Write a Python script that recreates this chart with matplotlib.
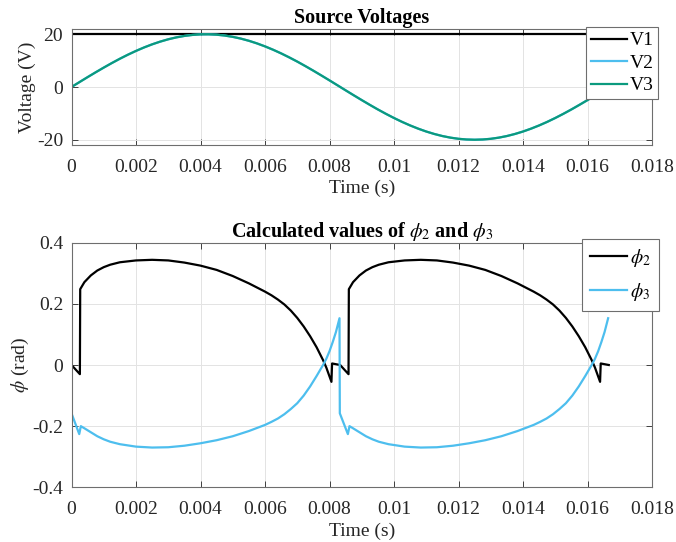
import matplotlib
matplotlib.use('Agg')
import matplotlib.pyplot as plt
import numpy as np

plt.rcParams['font.family'] = ['Liberation Serif', 'DejaVu Serif']
plt.rcParams['mathtext.fontset'] = 'stix'

# --- top panel: source voltages ---
# sample times: every 0.25 ms up to 16.5 ms, then the end of the cycle
t_v = list(np.round(np.arange(0, 0.0165 + 1e-9, 0.00025), 5)) + [0.01667]
v3 = [0, 1.88, 3.75, 5.58, 7.36, 9.08, 10.72, 12.26, 13.69, 15.00,
      16.18, 17.21, 18.10, 18.82, 19.37, 19.75, 19.96, 19.99, 19.84, 19.52,
      19.02, 18.36, 17.53, 16.54, 15.41, 14.14, 12.75, 11.24, 9.64, 7.94,
      6.18, 4.36, 2.51, 0.63, -1.26, -3.13, -4.97, -6.77, -8.52, -10.18,
      -11.76, -13.23, -14.58, -15.80, -16.89, -17.82, -18.60, -19.21, -19.65, -19.91,
      -20.0, -19.91, -19.65, -19.21, -18.60, -17.82, -16.89, -15.80, -14.58, -13.23,
      -11.76, -10.18, -8.52, -6.77, -4.97, -3.13, -1.26, 0]
v1 = [20.0] * len(t_v)
v2 = list(v3)   # V2 sits under V3 in the reference, never visible

# --- bottom panel: phi_2 ---
t_p2 = [0, 0.00026, 0.00027, 0.0004, 0.0006, 0.0008, 0.001, 0.0012, 0.0015, 0.002,
        0.0025, 0.003, 0.0035, 0.004, 0.0045, 0.005, 0.0055, 0.006, 0.0062, 0.0064,
        0.0066, 0.0068, 0.007, 0.0072, 0.0074, 0.0076, 0.0078, 0.0079, 0.00806, 0.00808,
        0.00833, 0.00859, 0.0086,
        0.00873, 0.00893, 0.00913, 0.00933, 0.00953, 0.00983, 0.01033, 0.01083, 0.01133, 0.01183,
        0.01233, 0.01283, 0.01333, 0.01383, 0.01433, 0.01453, 0.01473, 0.01493, 0.01513, 0.01533,
        0.01553, 0.01573, 0.01593, 0.01613, 0.01623, 0.01639, 0.01641, 0.01666]
phi2 = [0, -0.03, 0.248, 0.271, 0.293, 0.309, 0.320, 0.328, 0.336, 0.342,
        0.344, 0.342, 0.335, 0.325, 0.311, 0.291, 0.267, 0.240, 0.228, 0.214,
        0.198, 0.178, 0.154, 0.126, 0.094, 0.058, 0.016, -0.008, -0.055, 0.005,
        0.0, -0.03, 0.248,
        0.271, 0.293, 0.309, 0.320, 0.328, 0.336, 0.342, 0.344, 0.342, 0.335,
        0.325, 0.311, 0.291, 0.267, 0.240, 0.228, 0.214, 0.198, 0.178, 0.154,
        0.126, 0.094, 0.058, 0.016, -0.008, -0.055, 0.005, 0.0]

# --- bottom panel: phi_3 ---
t_p3 = [0, 0.00024, 0.00029, 0.0004, 0.0006, 0.0008, 0.001, 0.0012, 0.0015, 0.002,
        0.0025, 0.003, 0.0035, 0.004, 0.0045, 0.005, 0.0055, 0.006, 0.0062, 0.0064,
        0.0066, 0.0068, 0.007, 0.0072, 0.0074, 0.0076, 0.0078, 0.0079, 0.008, 0.0081,
        0.0082, 0.00831, 0.00832, 0.00857, 0.00862,
        0.00873, 0.00893, 0.00913, 0.00933, 0.00953, 0.00983, 0.01033, 0.01083, 0.01133, 0.01183,
        0.01233, 0.01283, 0.01333, 0.01383, 0.01433, 0.01453, 0.01473, 0.01493, 0.01513, 0.01533,
        0.01553, 0.01573, 0.01593, 0.01613, 0.01623, 0.01633, 0.01643, 0.01653, 0.01664]
phi3 = [-0.158, -0.226, -0.2, -0.207, -0.22, -0.233, -0.243, -0.251, -0.259, -0.267,
        -0.27, -0.269, -0.264, -0.256, -0.246, -0.233, -0.216, -0.196, -0.186, -0.175,
        -0.161, -0.144, -0.125, -0.1, -0.07, -0.036, 0.0, 0.02, 0.045, 0.075,
        0.108, 0.153, -0.158, -0.226, -0.2,
        -0.207, -0.22, -0.233, -0.243, -0.251, -0.259, -0.267, -0.27, -0.269, -0.264,
        -0.256, -0.246, -0.233, -0.216, -0.196, -0.186, -0.175, -0.161, -0.144, -0.125,
        -0.1, -0.07, -0.036, 0.0, 0.02, 0.045, 0.075, 0.108, 0.153]

x_ticks = [0, 0.002, 0.004, 0.006, 0.008, 0.01, 0.012, 0.014, 0.016, 0.018]
x_ticklabels = ['0', '0.002', '0.004', '0.006', '0.008', '0.01', '0.012', '0.014', '0.016', '0.018']

BLACK = '#000000'
BLUE = '#4DBEEE'
TEAL = '#0B9A7E'
TXT = '#262626'
FS = 14

fig = plt.figure(figsize=(6.76, 5.42), dpi=100)
W, H = 676, 542
ax1 = fig.add_axes([71.5 / W, 1 - 145 / H, (652 - 71.5) / W, (145 - 29) / H])
ax2 = fig.add_axes([71.5 / W, 1 - 487.3 / H, (652 - 71.5) / W, (487.3 - 242.7) / H])


def style(ax):
    ax.set_xlim(0, 0.018)
    ax.set_xticks(x_ticks)
    ax.set_xticklabels(x_ticklabels)
    ax.grid(True, color='#e3e3e3', lw=0.7)
    ax.set_axisbelow(True)
    ax.tick_params(direction='in', top=True, right=True, length=4, width=0.6,
                   colors=TXT, labelsize=FS)
    ax.tick_params(axis='x', pad=10)
    ax.tick_params(axis='y', pad=6)
    for s in ax.spines.values():
        s.set_color('#6e6e6e')
        s.set_linewidth(0.8)
    ax.set_xlabel('Time (s)', fontsize=FS, color=TXT, labelpad=3)


ax1.plot(t_v, v1, color=BLACK, lw=1.6, label='V1')
ax1.plot(t_v, v2, color=BLUE, lw=1.6, label='V2')
ax1.plot(t_v, v3, color=TEAL, lw=1.6, label='V3')
ax1.set_ylim(-22, 22)
ax1.set_yticks([-20, 0, 20])
ax1.set_yticklabels(['-20', '0', '20'])
style(ax1)
ax1.set_ylabel('Voltage (V)', fontsize=FS, color=TXT, labelpad=0.5)
ax1.set_title('Source Voltages', fontsize=14.5, fontweight='bold', pad=4)
leg1 = ax1.legend(loc='upper right', bbox_to_anchor=(658.3 / W, 1 - 27 / H),
                  bbox_transform=fig.transFigure, borderaxespad=0, fontsize=FS,
                  fancybox=False, framealpha=1, edgecolor='#6e6e6e',
                  handlelength=1.85, handletextpad=0.15, labelspacing=0.25,
                  borderpad=0.25)
leg1.get_frame().set_linewidth(0.8)

ax2.plot(t_p2, phi2, color=BLACK, lw=1.6, label=r'$\phi_2$')
ax2.plot(t_p3, phi3, color=BLUE, lw=1.6, label=r'$\phi_3$')
ax2.set_ylim(-0.4, 0.4)
ax2.set_yticks([-0.4, -0.2, 0, 0.2, 0.4])
ax2.set_yticklabels(['-0.4', '-0.2', '0', '0.2', '0.4'])
style(ax2)
ax2.set_ylabel(r'$\phi$ (rad)', fontsize=FS, color=TXT, labelpad=1)
ax2.set_title(r'Calculated values of $\phi_2$ and $\phi_3$', fontsize=14.5,
              fontweight='bold', pad=4)
leg2 = ax2.legend(loc='upper right', bbox_to_anchor=(659 / W, 1 - 239.3 / H),
                  bbox_transform=fig.transFigure, borderaxespad=0, fontsize=FS,
                  fancybox=False, framealpha=1, edgecolor='#6e6e6e',
                  handlelength=1.9, handletextpad=0.2, labelspacing=0.6,
                  borderpad=0.4)
leg2.get_frame().set_linewidth(0.8)

fig.savefig('out.png', dpi=100)
